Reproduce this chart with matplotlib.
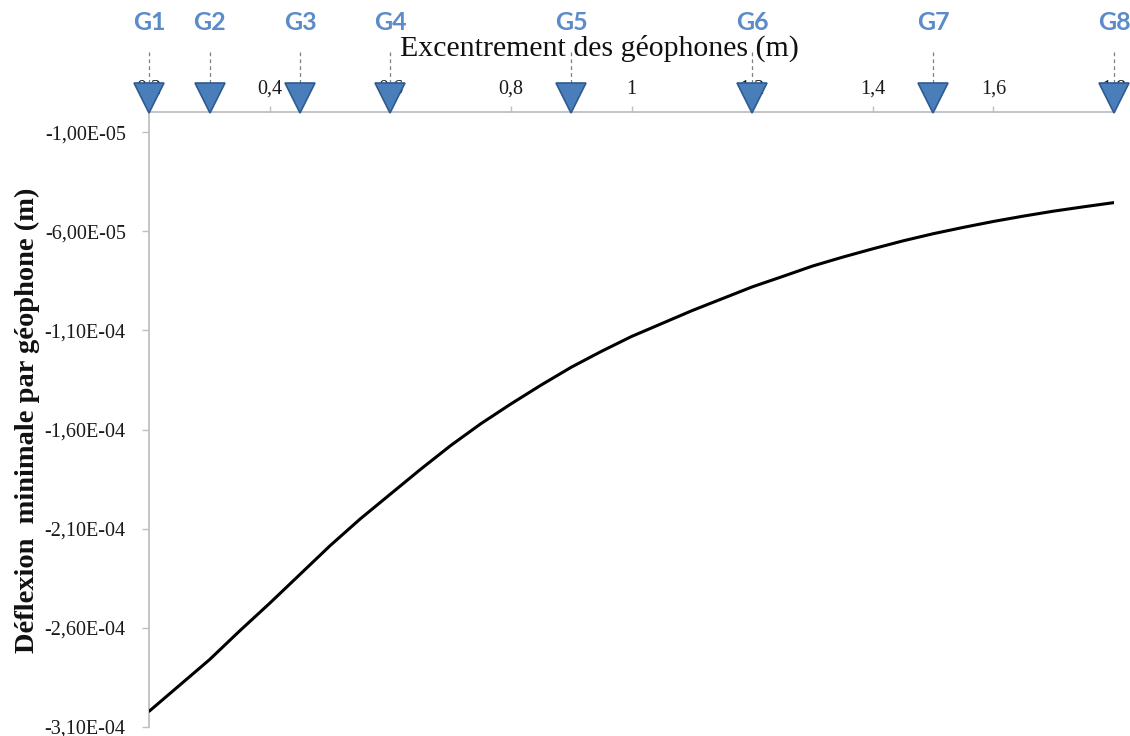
import matplotlib
matplotlib.use("Agg")
import matplotlib.pyplot as plt
import matplotlib.transforms as mtransforms
from matplotlib.ticker import FuncFormatter, FixedLocator

# ---- data ----
excentrement = [0.20, 0.25, 0.30, 0.35, 0.40, 0.45, 0.50, 0.55, 0.60, 0.65, 0.70, 0.75, 0.80,
                0.85, 0.90, 0.95, 1.00, 1.05, 1.10, 1.15, 1.20, 1.25, 1.30, 1.35, 1.40, 1.45,
                1.50, 1.55, 1.60, 1.65, 1.70, 1.75, 1.80]
deflexion = [-3.02e-4, -2.89e-4, -2.76e-4, -2.615e-4, -2.475e-4, -2.33e-4, -2.185e-4, -2.05e-4,
             -1.925e-4, -1.80e-4, -1.68e-4, -1.57e-4, -1.47e-4, -1.375e-4, -1.285e-4, -1.205e-4,
             -1.13e-4, -1.065e-4, -1.00e-4, -9.4e-5, -8.8e-5, -8.28e-5, -7.75e-5, -7.3e-5,
             -6.88e-5, -6.48e-5, -6.12e-5, -5.8e-5, -5.5e-5, -5.23e-5, -4.98e-5, -4.76e-5, -4.55e-5]

geophone_labels = ["G1", "G2", "G3", "G4", "G5", "G6", "G7", "G8"]
geophone_x = [0.2, 0.3, 0.45, 0.6, 0.9, 1.2, 1.5, 1.8]

x_ticks = [0.2, 0.4, 0.6, 0.8, 1.0, 1.2, 1.4, 1.6, 1.8]
y_ticks = [-3.1e-4, -2.6e-4, -2.1e-4, -1.6e-4, -1.1e-4, -6.0e-5, -1.0e-5]

title = "Excentrement des géophones (m)"
ylabel = "Déflexion  minimale par géophone (m)"

# ---- figure ----
W, H = 1130, 736
fig = plt.figure(figsize=(W / 100, H / 100), dpi=100)
left_px, right_px, top_px, bottom_px = 149.3, 1114.0, 112.4, 727.0
ax = fig.add_axes([left_px / W, 1 - bottom_px / H, (right_px - left_px) / W, (bottom_px - top_px) / H])

ax.plot(excentrement, deflexion, color="black", lw=2.2, solid_joinstyle="round",
        solid_capstyle="round", zorder=3)

ax.set_xlim(0.2, 1.8)
ax.set_ylim(-3.1e-4, 0.0)

spine_col = "#BFBFBF"
for s in ["right", "bottom"]:
    ax.spines[s].set_visible(False)
for s in ["left", "top"]:
    ax.spines[s].set_color(spine_col)
    ax.spines[s].set_linewidth(1.3)

ax.xaxis.set_ticks_position("top")
ax.xaxis.set_major_locator(FixedLocator(x_ticks))
ax.yaxis.set_major_locator(FixedLocator(y_ticks))


def fmt_x(v, pos):
    s = f"{v:.1f}"
    if s.endswith(".0"):
        s = s[:-2]
    return s.replace(".", ",")


def fmt_y(v, pos):
    return f"{v:.2E}".replace(".", ",")


ax.xaxis.set_major_formatter(FuncFormatter(fmt_x))
ax.yaxis.set_major_formatter(FuncFormatter(fmt_y))

ax.tick_params(axis="x", direction="out", length=4, width=1, color=spine_col, pad=6)
ax.tick_params(axis="y", direction="out", length=5, width=1, color=spine_col, pad=12)
for lab in ax.get_xticklabels() + ax.get_yticklabels():
    lab.set_fontfamily("Liberation Serif")
    lab.set_fontsize(14.5)
    lab.set_color("#1A1A1A")

# geophone markers
trans = mtransforms.blended_transform_factory(ax.transData, ax.transAxes)
ax_h = bottom_px - top_px


def frac(ypx):
    return (bottom_px - ypx) / ax_h


for gx, gl in zip(geophone_x, geophone_labels):
    ax.plot([gx, gx], [frac(52), frac(113)], transform=trans, color="#7F7F7F",
            lw=0.9, ls=(0, (3, 2.5)), clip_on=False, zorder=4)
    ax.plot([gx], [frac(98)], transform=trans, marker="v", markersize=21,
            markerfacecolor="#4A7EBB", markeredgecolor="#2F5C8F", markeredgewidth=1.2,
            clip_on=False, zorder=5, ls="none")
    ax.text(gx, frac(23), gl, transform=trans, ha="center", va="center",
            fontfamily="Lato", fontweight="bold", fontsize=18, color="#5B8BC8")

fig.text(599 / W, 1 - 48 / H, title, ha="center", va="center",
         fontfamily="Liberation Serif", fontsize=21.5, color="#111111")
fig.text(27 / W, 1 - 420 / H, ylabel, ha="center", va="center", rotation=90,
         fontfamily="Liberation Serif", fontweight="bold", fontsize=20.5, color="#111111")

fig.savefig("out.png", dpi=100, facecolor="white")
